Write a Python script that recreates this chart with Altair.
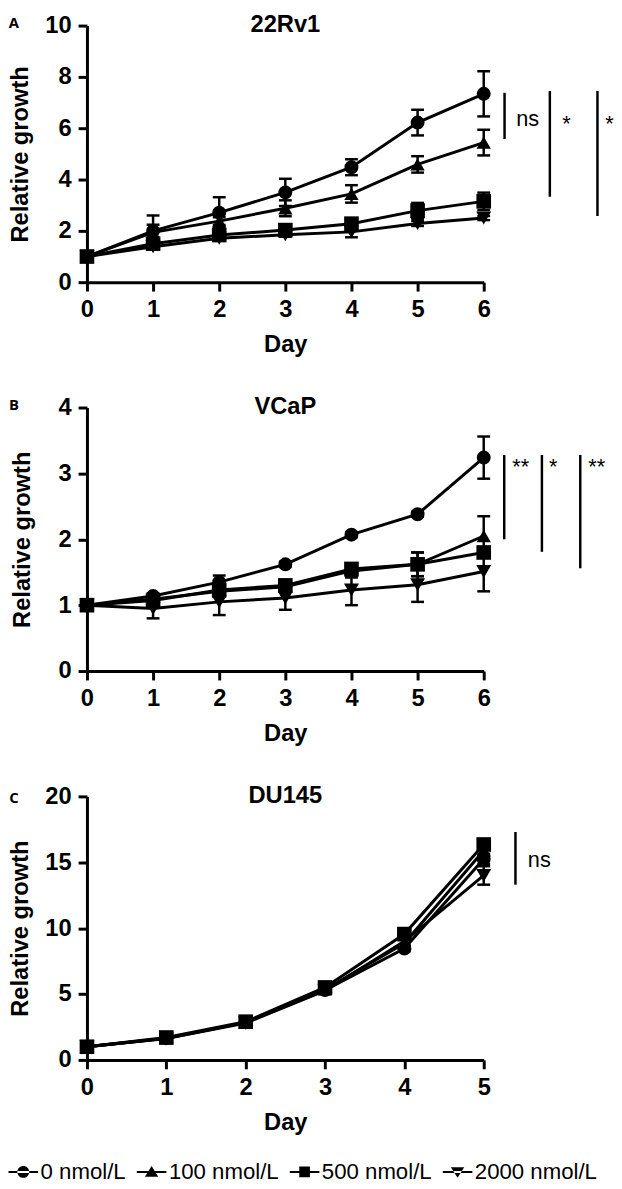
import altair as alt
import pandas as pd

FONT = "Liberation Sans, Arial, Helvetica, sans-serif"
NARROW = "Liberation Sans Narrow, Arial Narrow, Liberation Sans, sans-serif"
LETTER_FONT = "Open Sans, Liberation Sans, sans-serif"

series = ["0 nmol/L", "100 nmol/L", "500 nmol/L", "2000 nmol/L"]
shapes = ["circle", "triangle-up", "square", "triangle-down"]
legend_paths = [
    "M-1,-0.07H1V0.07H-1ZM-0.4,0A0.4,0.4,0,1,0,0.4,0A0.4,0.4,0,1,0,-0.4,0Z",
    "M-1,-0.07H1V0.07H-1ZM-0.45,0.32L0,-0.4L0.45,0.32Z",
    "M-1,-0.07H1V0.07H-1ZM-0.36,-0.36H0.36V0.36H-0.36Z",
    "M-1,-0.07H1V0.07H-1ZM-0.45,-0.32L0,0.4L0.45,-0.32Z",
]

# ---- Panel A: 22Rv1 ----
days_a = [0, 1, 2, 3, 4, 5, 6]
a_0 = [1.0, 2.0, 2.71, 3.5, 4.48, 6.22, 7.34]
a_0_err = [0, 0.6, 0.6, 0.53, 0.31, 0.5, 0.88]
a_100 = [1.0, 1.94, 2.38, 2.88, 3.44, 4.59, 5.44]
a_100_err = [0, 0.3, 0.15, 0.31, 0.34, 0.32, 0.5]
a_500 = [1.0, 1.5, 1.84, 2.03, 2.28, 2.79, 3.15]
a_500_err = [0, 0.12, 0.1, 0.1, 0.12, 0.3, 0.34]
a_2000 = [1.0, 1.38, 1.71, 1.85, 1.96, 2.29, 2.5]
a_2000_err = [0, 0.1, 0.1, 0.08, 0.21, 0.1, 0.08]
a_sig_x = [6.315, 7.0, 7.72]
a_sig_top = [7.38, 7.45, 7.45]
a_sig_bot = [5.58, 3.33, 2.58]
a_sig_lab = ["ns", "*", "*"]
a_lab_x = [6.665, 7.25, 7.9]
a_lab_y = [6.37, 6.15, 6.15]

# ---- Panel B: VCaP ----
days_b = [0, 1, 2, 3, 4, 5, 6]
b_0 = [1.0, 1.14, 1.35, 1.62, 2.07, 2.38, 3.24]
b_0_err = [0, 0.04, 0.1, 0.04, 0.04, 0.04, 0.32]
b_100 = [1.0, 1.09, 1.21, 1.28, 1.52, 1.62, 2.05]
b_100_err = [0, 0.05, 0.08, 0.06, 0.1, 0.18, 0.3]
b_500 = [1.0, 1.07, 1.23, 1.3, 1.55, 1.62, 1.8]
b_500_err = [0, 0.04, 0.1, 0.06, 0.08, 0.18, 0.06]
b_2000 = [1.0, 0.95, 1.05, 1.11, 1.23, 1.31, 1.51]
b_2000_err = [0, 0.15, 0.2, 0.18, 0.23, 0.26, 0.3]
b_sig_x = [6.31, 6.88, 7.46]
b_sig_top = [3.28, 3.28, 3.28]
b_sig_bot = [2.0, 1.81, 1.56]
b_sig_lab = ["**", "*", "**"]
b_lab_x = [6.56, 7.05, 7.71]
b_lab_y = [3.1, 3.1, 3.1]

# ---- Panel C: DU145 ----
days_c = [0, 1, 2, 3, 4, 5]
c_0 = [1.0, 1.65, 2.85, 5.3, 8.45, 15.25]
c_0_err = [0, 0.1, 0.15, 0.2, 0.2, 0.4]
c_100 = [1.0, 1.65, 2.85, 5.35, 8.85, 15.9]
c_100_err = [0, 0.1, 0.15, 0.2, 0.25, 0.4]
c_500 = [1.0, 1.7, 2.9, 5.5, 9.55, 16.35]
c_500_err = [0, 0.1, 0.15, 0.2, 0.3, 0.4]
c_2000 = [1.0, 1.62, 2.8, 5.25, 9.0, 14.0]
c_2000_err = [0, 0.1, 0.15, 0.25, 0.3, 0.7]
c_sig_x = [5.40]
c_sig_top = [17.3]
c_sig_bot = [13.3]
c_sig_lab = ["ns"]
c_lab_x = [5.7]
c_lab_y = [15.2]

W = 402


def make_df(days, vals, errs):
    rows = []
    for s, v, e in zip(series, vals, errs):
        for d, y, er in zip(days, v, e):
            rows.append(dict(day=d, value=y, lo=y - er, hi=y + er, err=er, series=s))
    return pd.DataFrame(rows)


def panel(df, xmax, ymax, yvals, title, letter, sig, labs, h, ytp, letter_y, legend=False):
    xsc = alt.Scale(domain=[0, xmax], nice=False, zero=False)
    ysc = alt.Scale(domain=[0, ymax], nice=False)
    xax = alt.Axis(values=list(range(xmax + 1)), format="d", title="Day")
    yax = alt.Axis(values=yvals, format="d", title="Relative growth", titlePadding=ytp)

    def X(f):
        return alt.X(f, type="quantitative", scale=xsc, axis=xax)

    def Y(f):
        return alt.Y(f, type="quantitative", scale=ysc, axis=yax)

    base = alt.Chart(df)
    errs = base.transform_filter("datum.err > 0")
    rule = errs.mark_rule(color="black", strokeWidth=2.5, opacity=1).encode(x=X("day"), y=Y("lo"), y2="hi")
    cap_lo = errs.mark_tick(color="black", orient="horizontal", size=13, thickness=2.5, opacity=1).encode(
        x=X("day"), y=Y("lo"))
    cap_hi = errs.mark_tick(color="black", orient="horizontal", size=13, thickness=2.5, opacity=1).encode(
        x=X("day"), y=Y("hi"))
    line = base.mark_line(color="black", strokeWidth=3).encode(x=X("day"), y=Y("value"), detail="series:N")
    pts = base.mark_point(filled=True, color="black", opacity=1).encode(
        x=X("day"), y=Y("value"),
        shape=alt.Shape("series:N", scale=alt.Scale(domain=series, range=shapes), legend=None),
        size=alt.Size("series:N", scale=alt.Scale(domain=series, range=[200, 230, 160, 230]), legend=None),
    )
    sx, stop, sbot = sig
    sdf = pd.DataFrame({"sx": sx, "stop": stop, "sbot": sbot})
    srule = alt.Chart(sdf).mark_rule(color="black", strokeWidth=2.5, opacity=1).encode(
        x=X("sx"), y=Y("stop"), y2="sbot")
    lab, lx, ly = labs
    ldf = pd.DataFrame({"lab": lab, "lx": lx, "ly": ly})
    stext = alt.Chart(ldf).mark_text(font=NARROW, fontSize=22, color="black", align="center", baseline="middle").encode(
        x=X("lx"), y=Y("ly"), text="lab:N")
    tdf = pd.DataFrame({"t": [title], "l": [letter]})
    ttl = alt.Chart(tdf).mark_text(font=FONT, fontSize=24, fontWeight="bold", color="black",
                                   align="center", baseline="middle").encode(
        x=alt.value(W / 2), y=alt.value(0), text="t:N")
    let = alt.Chart(tdf).mark_text(font=LETTER_FONT, fontSize=15, fontWeight="bold", color="black",
                                   align="center", baseline="middle").encode(
        x=alt.value(-74), y=alt.value(letter_y), text="l:N")
    layers = [rule, cap_lo, cap_hi, line, pts, srule, stext, ttl, let]
    if legend:
        leg = base.transform_filter("datum.day < 0").mark_point(filled=True, color="black").encode(
            shape=alt.Shape("series:N", scale=alt.Scale(domain=series, range=legend_paths),
                            legend=alt.Legend(title=None, orient="none", legendX=-80, legendY=365,
                                              direction="horizontal", symbolSize=900,
                                              symbolFillColor="black", symbolStrokeColor="black",
                                              symbolStrokeWidth=1, symbolOpacity=1,
                                              labelFont=FONT, labelFontSize=22.5, labelColor="black",
                                              labelOffset=2, columnPadding=8)))
        layers.append(leg)
    ch = alt.layer(*layers).properties(width=W, height=h)
    if legend:
        ch = ch.resolve_scale(shape="independent")
    return ch


df_a = make_df(days_a, [a_0, a_100, a_500, a_2000], [a_0_err, a_100_err, a_500_err, a_2000_err])
df_b = make_df(days_b, [b_0, b_100, b_500, b_2000], [b_0_err, b_100_err, b_500_err, b_2000_err])
df_c = make_df(days_c, [c_0, c_100, c_500, c_2000], [c_0_err, c_100_err, c_500_err, c_2000_err])

pa = panel(df_a, 6, 10, [0, 2, 4, 6, 8, 10], "22Rv1", "A",
           (a_sig_x, a_sig_top, a_sig_bot), (a_sig_lab, a_lab_x, a_lab_y), 260, 13, -3)
pb = panel(df_b, 6, 4, [0, 1, 2, 3, 4], "VCaP", "B",
           (b_sig_x, b_sig_top, b_sig_bot), (b_sig_lab, b_lab_x, b_lab_y), 267, 24, -2)
pc = panel(df_c, 5, 20, [0, 5, 10, 15, 20], "DU145", "C",
           (c_sig_x, c_sig_top, c_sig_bot), (c_sig_lab, c_lab_x, c_lab_y), 267, 13, 2, legend=True)

chart = alt.vconcat(pa, pb, pc, spacing=127, bounds="flush").properties(
    padding={"left": 0, "top": -2, "right": 0, "bottom": 0}
).configure_axis(
    domainColor="black", domainWidth=3, tickColor="black", tickWidth=3, tickSize=9,
    labelPadding=7, labelFont=FONT, labelFontSize=24, labelFontWeight="bold", labelColor="black",
    titleFont=FONT, titleFontSize=24, titleFontWeight="bold", titleColor="black",
    grid=False, labelFlush=False, labelOverlap=False,
).configure_axisX(titlePadding=11).configure_view(stroke=None)

chart.save("out.html", embed_options={"renderer": "svg", "actions": False})
